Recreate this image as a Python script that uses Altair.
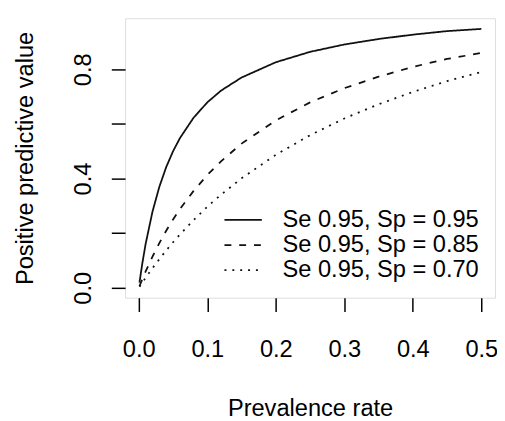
import altair as alt
import pandas as pd

# Prevalence rates (x) and positive predictive values
prevalence = [0.001, 0.005, 0.01, 0.02, 0.03, 0.04, 0.05, 0.06, 0.08, 0.10, 0.12,
              0.15, 0.20, 0.25, 0.30, 0.35, 0.40, 0.45, 0.50]
ppv_sp95 = [0.019, 0.087, 0.161, 0.279, 0.370, 0.442, 0.500, 0.548, 0.623, 0.679,
            0.722, 0.770, 0.826, 0.864, 0.891, 0.911, 0.927, 0.940, 0.948]
ppv_sp85 = [0.006, 0.031, 0.060, 0.114, 0.164, 0.209, 0.250, 0.288, 0.355, 0.413,
            0.463, 0.528, 0.613, 0.679, 0.731, 0.773, 0.809, 0.838, 0.860]
ppv_sp70 = [0.004, 0.019, 0.037, 0.072, 0.105, 0.137, 0.167, 0.195, 0.248, 0.297,
            0.341, 0.401, 0.487, 0.559, 0.620, 0.672, 0.717, 0.757, 0.790]
series_labels = ["Se 0.95, Sp = 0.95", "Se 0.95, Sp = 0.85", "Se 0.95, Sp = 0.70"]
x_ticks = [0.0, 0.1, 0.2, 0.3, 0.4, 0.5]
y_ticks = [0.0, 0.2, 0.4, 0.6, 0.8]

dashes = [[1, 0], [7, 8], [2, 6]]
FONT = "Liberation Sans"
W, H = 376, 284

rows = []
for lab, vals in zip(series_labels, [ppv_sp95, ppv_sp85, ppv_sp70]):
    for p, v in zip(prevalence, vals):
        rows.append({"series": lab, "p": p, "ppv": v})
df = pd.DataFrame(rows)

x_scale = alt.Scale(domain=[-0.02, 0.52], nice=False, zero=False)
y_scale = alt.Scale(domain=[-0.036, 0.987], nice=False, zero=False)

lines = alt.Chart(df).mark_line(color="#111111", strokeWidth=1.8).encode(
    x=alt.X("p:Q", scale=x_scale,
            axis=alt.Axis(values=x_ticks, format=".1f", title="Prevalence rate",
                          domain=False, grid=False, tickSize=14, tickColor="black",
                          tickWidth=1.5, labelPadding=46, labelBaseline="alphabetic",
                          labelAlign="center", labelFontSize=24, labelColor="black",
                          labelFont=FONT, titleFont=FONT, titleFontSize=24,
                          titleFontWeight="normal", titleColor="black",
                          titleBaseline="alphabetic", titleAlign="center",
                          titleX=W / 2, titleY=120, labelFlush=False, labelOverlap=False)),
    y=alt.Y("ppv:Q", scale=y_scale,
            axis=alt.Axis(values=y_ticks,
                          labelExpr="(round(datum.value*10) % 4 == 0) ? format(datum.value, '.1f') : ''",
                          title="Positive predictive value",
                          domain=False, grid=False, tickSize=14, tickColor="black",
                          tickWidth=1.5, labelPadding=21, labelAngle=270,
                          labelBaseline="alphabetic", labelAlign="center",
                          labelFontSize=24, labelColor="black", labelFont=FONT,
                          titleFont=FONT, titleFontSize=24, titleFontWeight="normal",
                          titleColor="black", titleAngle=270, titleBaseline="alphabetic",
                          titleAlign="center", titleX=-94, titleY=H / 2,
                          labelFlush=False, labelOverlap=False)),
    strokeDash=alt.StrokeDash("series:N", scale=alt.Scale(domain=series_labels, range=dashes),
                              legend=None),
    detail="series:N",
)

layers = [lines]
one = pd.DataFrame({"a": [0]})
for i, (lab, dash) in enumerate(zip(series_labels, dashes)):
    yy = 205 + i * 25.5
    layers.append(alt.Chart(one).mark_rule(color="#111111", strokeWidth=1.8, strokeDash=dash).encode(
        x=alt.value(101), x2=alt.value(139), y=alt.value(yy)))
    layers.append(alt.Chart(one).mark_text(align="left", baseline="middle", font=FONT,
                                           fontSize=24, color="black").encode(
        x=alt.value(160), y=alt.value(yy), text=alt.value(lab)))

chart = alt.layer(*layers).properties(
    width=W, height=H,
    autosize=alt.AutoSizeParams(type="none"),
    padding={"left": 119, "top": 7, "right": 2, "bottom": 128},
).configure_view(stroke="black", strokeWidth=1.5).configure(background="white")

chart.save("out.html", embed_options={"renderer": "svg", "actions": False})
